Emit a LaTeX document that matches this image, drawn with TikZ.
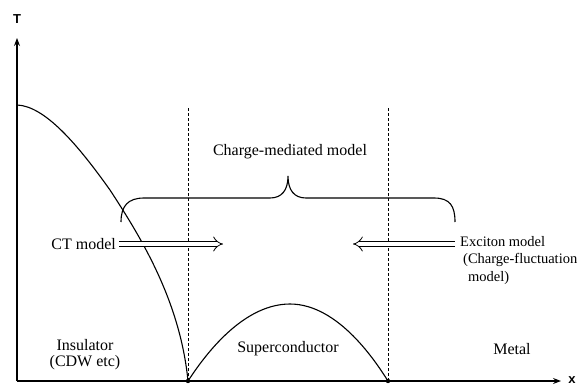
\documentclass[tikz,border=0pt]{standalone}
\usepackage{fontspec}
\setmainfont{Liberation Serif}
\setsansfont{Liberation Sans}
\usetikzlibrary{arrows.meta}

\tikzset{
  lbl/.style={font=\fontsize{16}{18}\selectfont, inner sep=1pt},
  axlbl/.style={font=\sffamily\bfseries\fontsize{13}{15}\selectfont, inner sep=1pt},
  boundary/.style={line width=1.1pt},
  crossover/.style={line width=1pt, dash pattern=on 3pt off 2pt},
  dblarrow/.style={double, double distance=4.5pt, line width=0.8pt, -{Implies}}
}

\begin{document}
\begin{tikzpicture}[x=1pt, y=-1pt, >=Stealth]
  \useasboundingbox (0,0) rectangle (579,386);

  % Axes
  \coordinate (O) at (17,381);
  \coordinate (Tend) at (17,38);
  \coordinate (Xend) at (561,381);
  \draw[boundary, ->] (O) -- (Tend);
  \draw[boundary, ->] (O) -- (Xend);
  \node[axlbl] (T) at (17,19) {T};
  \node[axlbl] (X) at (572,380) {x};

  % Critical concentrations
  \coordinate (xc1) at (188,381);
  \coordinate (xc2) at (388,381);
  \coordinate (xc1top) at (188,107);
  \coordinate (xc2top) at (388,107);
  \draw[crossover] (xc1) -- (xc1top);
  \draw[crossover] (xc2) -- (xc2top);

  % Insulator boundary
  \draw[boundary] (17,105) .. controls (45,106) and (78,145) .. (110,190)
    .. controls (140,236) and (180,300) .. (xc1);

  % Superconducting dome
  \draw[boundary] (xc1) parabola bend (290,304) (xc2);
  \fill (xc1) circle (2.2pt);
  \fill (xc2) circle (2.2pt);

  % Brace
  \draw[boundary] (121,222) .. controls (121,206) and (128,198) .. (144,198)
    -- (270,198) .. controls (282,198) and (288,190) .. (288,176)
    .. controls (288,190) and (294,198) .. (306,198)
    -- (434,198) .. controls (450,198) and (455,206) .. (455,222);
  \node[lbl] (cm) at (290,152) {Charge-mediated model};

  % Models
  \node[lbl, anchor=east, inner sep=3pt] (ct) at (119,244) {CT model};
  \coordinate (ctend) at (223,244);
  \draw[dblarrow] (ct.east) -- (ctend);
  \node[lbl, font=\fontsize{14.5}{17.5}\selectfont, anchor=north west, align=left, inner sep=0pt] (ex) at (460,236)
    {Exciton model\\\hspace*{3pt}(Charge-fluctuation\\\hspace*{8pt}model)};
  \coordinate (exstart) at (455,244);
  \coordinate (exend) at (353,244);
  \draw[dblarrow] (exstart) -- (exend);

  % Phases
  \node[lbl, align=center] (ins) at (85,355) {Insulator\\[-2pt](CDW etc)};
  \node[lbl] (sc) at (288,349) {Superconductor};
  \node[lbl] (met) at (512,349) {Metal};
\end{tikzpicture}
\end{document}
